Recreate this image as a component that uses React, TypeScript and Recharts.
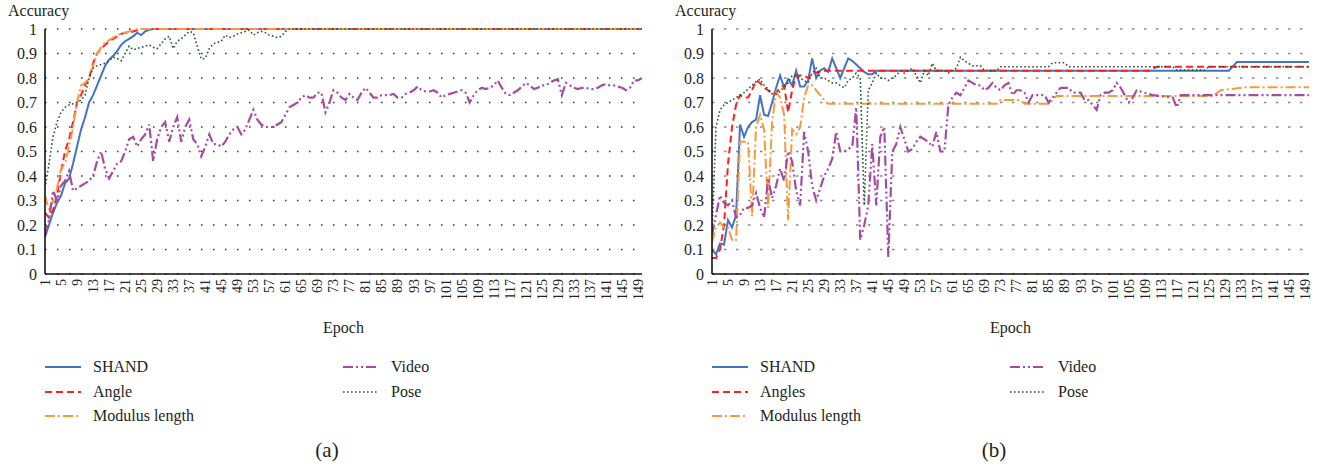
import React from "react";
import { CartesianGrid, Line, LineChart, XAxis, YAxis } from "recharts";

const FONT = '"Liberation Serif", "DejaVu Serif", serif';
const INK = "#231f20";

const epochTicks = [
  1, 5, 9, 13, 17, 21, 25, 29, 33, 37, 41, 45, 49, 53, 57, 61, 65, 69, 73, 77, 81, 85, 89, 93, 97, 101, 105,
  109, 113, 117, 121, 125, 129, 133, 137, 141, 145, 149
];
const accuracyTicks = [0, 0.1, 0.2, 0.3, 0.4, 0.5, 0.6, 0.7, 0.8, 0.9, 1];

// (a) — [epoch, accuracy]
const shandA = [
  [1, 0.15], [2, 0.2], [3, 0.25], [4, 0.29], [5, 0.32], [6, 0.37], [7, 0.39], [8, 0.45], [9, 0.52], [10, 0.59],
  [11, 0.64], [12, 0.7], [13, 0.73], [14, 0.77], [15, 0.81], [16, 0.85], [17, 0.875], [18, 0.89], [19, 0.91],
  [20, 0.935], [21, 0.95], [22, 0.96], [23, 0.97], [24, 0.985], [25, 0.975], [26, 0.99], [27, 0.997], [28, 1],
  [150, 1]
];
const angleA = [
  [1, 0.25], [2, 0.23], [3, 0.26], [4, 0.32], [5, 0.42], [6, 0.5], [7, 0.55], [8, 0.62], [9, 0.7], [10, 0.73],
  [11, 0.77], [12, 0.8], [13, 0.86], [14, 0.9], [15, 0.92], [16, 0.935], [17, 0.95], [18, 0.96], [19, 0.97],
  [20, 0.98], [21, 0.985], [22, 0.985], [23, 0.99], [24, 0.995], [25, 1], [150, 1]
];
const modulusA = [
  [1, 0.32], [2, 0.26], [3, 0.3], [4, 0.35], [5, 0.43], [6, 0.45], [7, 0.52], [8, 0.6], [9, 0.7], [10, 0.77],
  [11, 0.78], [12, 0.8], [13, 0.85], [14, 0.9], [15, 0.925], [16, 0.945], [17, 0.955], [18, 0.965], [19, 0.975],
  [20, 0.98], [21, 0.985], [22, 0.99], [23, 0.995], [24, 1], [150, 1]
];
const videoA = [
  [1, 0.16], [2, 0.22], [3, 0.34], [4, 0.3], [5, 0.36], [6, 0.38], [7, 0.42], [8, 0.34], [9, 0.35], [10, 0.36],
  [11, 0.37], [12, 0.38], [13, 0.4], [14, 0.46], [15, 0.5], [16, 0.43], [17, 0.39], [18, 0.42], [19, 0.45],
  [20, 0.46], [21, 0.5], [22, 0.55], [23, 0.56], [24, 0.52], [25, 0.55], [26, 0.57], [27, 0.61], [28, 0.46],
  [29, 0.55], [30, 0.6], [31, 0.62], [32, 0.54], [33, 0.6], [34, 0.64], [35, 0.54], [36, 0.6], [37, 0.63],
  [38, 0.55], [39, 0.53], [40, 0.48], [41, 0.52], [42, 0.57], [43, 0.53], [44, 0.53], [45, 0.52], [46, 0.54],
  [47, 0.57], [48, 0.59], [49, 0.6], [50, 0.57], [51, 0.59], [52, 0.63], [53, 0.67], [54, 0.63], [55, 0.61],
  [56, 0.6], [57, 0.6], [58, 0.6], [59, 0.61], [60, 0.62], [61, 0.65], [62, 0.68], [63, 0.69], [64, 0.7],
  [65, 0.72], [66, 0.73], [67, 0.72], [68, 0.72], [69, 0.74], [70, 0.74], [71, 0.66], [72, 0.7], [73, 0.75],
  [74, 0.74], [75, 0.72], [76, 0.71], [77, 0.735], [78, 0.72], [79, 0.71], [80, 0.74], [81, 0.76], [82, 0.74],
  [83, 0.72], [84, 0.72], [85, 0.73], [86, 0.73], [87, 0.73], [88, 0.735], [89, 0.72], [90, 0.72], [91, 0.735],
  [92, 0.74], [93, 0.75], [94, 0.765], [95, 0.75], [96, 0.745], [97, 0.745], [98, 0.75], [99, 0.74], [100, 0.72],
  [101, 0.73], [102, 0.735], [103, 0.74], [104, 0.745], [105, 0.75], [106, 0.74], [107, 0.7], [108, 0.73],
  [109, 0.75], [110, 0.76], [111, 0.755], [112, 0.76], [113, 0.77], [114, 0.79], [115, 0.76], [116, 0.735],
  [117, 0.73], [118, 0.74], [119, 0.75], [120, 0.765], [121, 0.78], [122, 0.77], [123, 0.755], [124, 0.76],
  [125, 0.77], [126, 0.77], [127, 0.78], [128, 0.79], [129, 0.795], [130, 0.73], [131, 0.78], [132, 0.77],
  [133, 0.76], [134, 0.755], [135, 0.76], [136, 0.76], [137, 0.755], [138, 0.755], [139, 0.76], [140, 0.77],
  [141, 0.775], [142, 0.77], [143, 0.77], [144, 0.765], [145, 0.76], [146, 0.75], [147, 0.76], [148, 0.79],
  [149, 0.79], [150, 0.8]
];
const poseA = [
  [1, 0.35], [2, 0.45], [3, 0.56], [4, 0.62], [5, 0.66], [6, 0.68], [7, 0.69], [8, 0.695], [9, 0.7], [10, 0.71],
  [11, 0.73], [12, 0.8], [13, 0.84], [14, 0.85], [15, 0.855], [16, 0.86], [17, 0.87], [18, 0.885], [19, 0.88],
  [20, 0.87], [21, 0.9], [22, 0.93], [23, 0.915], [24, 0.92], [25, 0.925], [26, 0.93], [27, 0.935], [28, 0.925],
  [29, 0.92], [30, 0.94], [31, 0.96], [32, 0.97], [33, 0.92], [34, 0.95], [35, 0.96], [36, 0.975], [37, 0.99],
  [38, 0.985], [39, 0.93], [40, 0.877], [41, 0.88], [42, 0.92], [43, 0.94], [44, 0.945], [45, 0.95], [46, 0.975],
  [47, 0.965], [48, 0.97], [49, 0.98], [50, 0.985], [51, 0.99], [52, 0.995], [53, 0.975], [54, 0.985], [55, 0.99],
  [56, 0.985], [57, 0.975], [58, 0.97], [59, 0.965], [60, 0.97], [61, 0.99], [62, 1], [150, 1]
];

// (b)
const shandB = [
  [1, 0.1], [2, 0.08], [3, 0.125], [4, 0.12], [5, 0.22], [6, 0.19], [7, 0.24], [8, 0.61], [9, 0.56], [10, 0.6],
  [11, 0.62], [12, 0.63], [13, 0.73], [14, 0.65], [15, 0.645], [16, 0.7], [17, 0.76], [18, 0.81], [19, 0.76],
  [20, 0.795], [21, 0.77], [22, 0.83], [23, 0.765], [24, 0.765], [25, 0.79], [26, 0.88], [27, 0.8], [28, 0.83],
  [29, 0.84], [30, 0.825], [31, 0.88], [32, 0.84], [33, 0.8], [34, 0.84], [35, 0.88], [36, 0.87], [37, 0.855],
  [38, 0.84], [39, 0.825], [40, 0.815], [41, 0.815], [42, 0.83], [130, 0.83], [132, 0.865], [150, 0.865]
];
const angleB = [
  [1, 0.065], [2, 0.065], [3, 0.1], [4, 0.2], [5, 0.45], [6, 0.6], [7, 0.69], [8, 0.73], [9, 0.72], [10, 0.72],
  [11, 0.75], [12, 0.79], [13, 0.78], [14, 0.76], [15, 0.75], [16, 0.735], [17, 0.74], [18, 0.76], [19, 0.77],
  [20, 0.66], [21, 0.75], [22, 0.81], [23, 0.81], [24, 0.81], [25, 0.8], [26, 0.82], [27, 0.82], [28, 0.83],
  [110, 0.83], [112, 0.846], [150, 0.846]
];
const modulusB = [
  [1, 0.13], [2, 0.19], [3, 0.21], [4, 0.19], [5, 0.19], [6, 0.14], [7, 0.135], [8, 0.54], [9, 0.54], [10, 0.54],
  [11, 0.235], [12, 0.6], [13, 0.65], [14, 0.59], [15, 0.27], [16, 0.62], [17, 0.74], [18, 0.72], [19, 0.65],
  [20, 0.22], [21, 0.59], [22, 0.57], [23, 0.6], [24, 0.72], [25, 0.77], [26, 0.77], [27, 0.75], [28, 0.73],
  [29, 0.71], [30, 0.695], [72, 0.695], [73, 0.71], [78, 0.71], [79, 0.695], [85, 0.695], [87, 0.727],
  [126, 0.727], [128, 0.75], [134, 0.762], [150, 0.762]
];
const videoB = [
  [1, 0.16], [2, 0.24], [3, 0.32], [4, 0.29], [5, 0.28], [6, 0.3], [7, 0.23], [8, 0.24], [9, 0.27], [10, 0.27],
  [11, 0.28], [12, 0.33], [13, 0.27], [14, 0.23], [15, 0.39], [16, 0.31], [17, 0.36], [18, 0.43], [19, 0.38],
  [20, 0.5], [21, 0.46], [22, 0.34], [23, 0.28], [24, 0.58], [25, 0.5], [26, 0.36], [27, 0.3], [28, 0.35],
  [29, 0.4], [30, 0.43], [31, 0.47], [32, 0.58], [33, 0.5], [34, 0.5], [35, 0.51], [36, 0.52], [37, 0.68],
  [38, 0.14], [39, 0.2], [40, 0.28], [41, 0.53], [42, 0.28], [43, 0.56], [44, 0.6], [45, 0.07], [46, 0.5],
  [47, 0.53], [48, 0.6], [49, 0.55], [50, 0.5], [51, 0.51], [52, 0.54], [53, 0.56], [54, 0.55], [55, 0.54],
  [56, 0.52], [57, 0.58], [58, 0.5], [59, 0.5], [60, 0.69], [61, 0.72], [62, 0.74], [63, 0.73], [64, 0.76],
  [65, 0.79], [66, 0.78], [67, 0.77], [68, 0.77], [69, 0.75], [70, 0.76], [71, 0.78], [72, 0.76], [73, 0.75],
  [74, 0.77], [75, 0.78], [76, 0.73], [77, 0.75], [78, 0.75], [79, 0.74], [80, 0.7], [81, 0.73], [82, 0.73],
  [83, 0.73], [84, 0.73], [85, 0.7], [86, 0.72], [87, 0.74], [88, 0.76], [89, 0.76], [90, 0.76], [91, 0.74],
  [92, 0.74], [93, 0.74], [94, 0.71], [95, 0.71], [96, 0.69], [97, 0.67], [98, 0.73], [99, 0.74], [100, 0.74],
  [101, 0.75], [102, 0.78], [103, 0.76], [104, 0.73], [105, 0.7], [106, 0.72], [107, 0.75], [108, 0.745],
  [109, 0.74], [110, 0.735], [111, 0.73], [116, 0.72], [117, 0.68], [118, 0.73], [150, 0.73]
];
const poseB = [
  [1, 0.17], [2, 0.6], [3, 0.67], [4, 0.69], [5, 0.7], [6, 0.71], [7, 0.72], [8, 0.73], [9, 0.74], [10, 0.755],
  [11, 0.77], [12, 0.785], [13, 0.795], [14, 0.77], [15, 0.755], [16, 0.735], [17, 0.735], [18, 0.745],
  [19, 0.765], [20, 0.78], [21, 0.81], [22, 0.81], [23, 0.8], [24, 0.79], [25, 0.78], [26, 0.82], [27, 0.84],
  [28, 0.8], [29, 0.8], [30, 0.79], [31, 0.78], [32, 0.78], [33, 0.77], [34, 0.76], [35, 0.79], [36, 0.8],
  [37, 0.82], [38, 0.8], [39, 0.28], [40, 0.75], [41, 0.78], [42, 0.82], [43, 0.8], [44, 0.8], [45, 0.79],
  [46, 0.8], [47, 0.81], [48, 0.83], [49, 0.82], [50, 0.83], [51, 0.84], [52, 0.81], [53, 0.78], [54, 0.83],
  [55, 0.81], [56, 0.86], [57, 0.83], [58, 0.83], [59, 0.83], [60, 0.82], [61, 0.83], [62, 0.84], [63, 0.885],
  [64, 0.87], [65, 0.86], [66, 0.85], [67, 0.85], [68, 0.85], [69, 0.83], [72, 0.83], [73, 0.846], [85, 0.846],
  [86, 0.862], [89, 0.862], [90, 0.846], [116, 0.846], [117, 0.832], [124, 0.832], [125, 0.846], [150, 0.846]
];

const styles = [
  { color: "#4472c4", dash: undefined, width: 2 },
  { color: "#ff2020", dash: "7 4", width: 2 },
  { color: "#f79a3e", dash: "10 3 2 3", width: 2 },
  { color: "#a54ca1", dash: "10 3 2 3 2 3", width: 2.2 },
  { color: "#1f5c30", dash: "1.6 2.4", width: 1.6 }
];

const toPoints = (rows: number[][]) => rows.map(([e, v]) => ({ e, v }));

function EpochTick({ x, y, payload }: any) {
  return (
    <text
      x={x}
      y={y}
      transform={`rotate(-90, ${x}, ${y})`}
      textAnchor="end"
      dy="0.35em"
      fontSize={14}
      fontFamily={FONT}
      fill={INK}
    >
      {payload.value}
    </text>
  );
}

function LegendItem({ s, label }: { s: (typeof styles)[number]; label: string }) {
  return (
    <div style={{ display: "flex", alignItems: "center", height: 24.5 }}>
      <svg width={36} height={6} style={{ marginRight: 12 }}>
        <line x1={0} y1={3} x2={36} y2={3} stroke={s.color} strokeWidth={s.width} strokeDasharray={s.dash} />
      </svg>
      <span>{label}</span>
    </div>
  );
}

function Panel({
  left,
  series,
  labels,
  caption,
  gridColor,
  gridDash
}: {
  left: number;
  series: number[][][];
  labels: string[];
  caption: string;
  gridColor: string;
  gridDash: string;
}) {
  return (
    <div style={{ position: "absolute", left, top: 0, width: 660, height: 468 }}>
      <LineChart width={660} height={340} margin={{ top: 29, right: 18, bottom: 0, left: 0 }}>
        <CartesianGrid vertical={false} stroke={gridColor} strokeDasharray={gridDash} strokeWidth={1.3} />
        <XAxis
          type="number"
          dataKey="e"
          domain={[1, 150]}
          ticks={epochTicks}
          interval={0}
          allowDataOverflow
          height={66}
          tickSize={0}
          tickMargin={5}
          tickLine={false}
          tick={<EpochTick />}
          axisLine={{ stroke: "#111", strokeWidth: 1.6 }}
          label={{ value: "Epoch", position: "insideBottom", offset: 7, fill: INK, fontSize: 16, fontFamily: FONT }}
        />
        <YAxis
          type="number"
          domain={[0, 1]}
          ticks={accuracyTicks}
          interval={0}
          width={45}
          tickSize={0}
          tickMargin={8}
          tickLine={false}
          axisLine={{ stroke: "#111", strokeWidth: 1.6 }}
          tick={{ fill: INK, fontSize: 16, fontFamily: FONT }}
          tickFormatter={(v: number) => (v === 0 ? "0" : v === 1 ? "1" : v.toFixed(1))}
          label={{
            content: () => (
              <text x={8} y={16} fill={INK} fontSize={16} fontFamily={FONT}>
                Accuracy
              </text>
            )
          }}
        />
        {series.map((rows, i) => (
          <Line
            key={labels[i]}
            data={toPoints(rows)}
            dataKey="v"
            type="linear"
            stroke={styles[i].color}
            strokeWidth={styles[i].width}
            strokeDasharray={styles[i].dash}
            dot={false}
            activeDot={false}
            isAnimationActive={false}
          />
        ))}
      </LineChart>
      <div style={{ position: "absolute", left: 45, top: 355, fontSize: 16, color: INK }}>
        {labels.slice(0, 3).map((l, i) => (
          <LegendItem key={l} s={styles[i]} label={l} />
        ))}
      </div>
      <div style={{ position: "absolute", left: 343, top: 355, fontSize: 16, color: INK }}>
        {labels.slice(3).map((l, i) => (
          <LegendItem key={l} s={styles[i + 3]} label={l} />
        ))}
      </div>
      <div
        style={{
          position: "absolute",
          left: 287,
          width: 80,
          top: 438,
          textAlign: "center",
          fontSize: 21,
          color: INK
        }}
      >
        {caption}
      </div>
    </div>
  );
}

export default function App() {
  return (
    <div
      style={{
        position: "absolute",
        left: 0,
        top: 0,
        width: 1319,
        height: 468,
        background: "#fff",
        fontFamily: FONT,
        overflow: "hidden"
      }}
    >
      <Panel
        left={0}
        series={[shandA, angleA, modulusA, videoA, poseA]}
        labels={["SHAND", "Angle", "Modulus length", "Video", "Pose"]}
        caption="(a)"
        gridColor="#333"
        gridDash="1.5 10.5"
      />
      <Panel
        left={667}
        series={[shandB, angleB, modulusB, videoB, poseB]}
        labels={["SHAND", "Angles", "Modulus length", "Video", "Pose"]}
        caption="(b)"
        gridColor="#888"
        gridDash="2.5 9.5"
      />
    </div>
  );
}
